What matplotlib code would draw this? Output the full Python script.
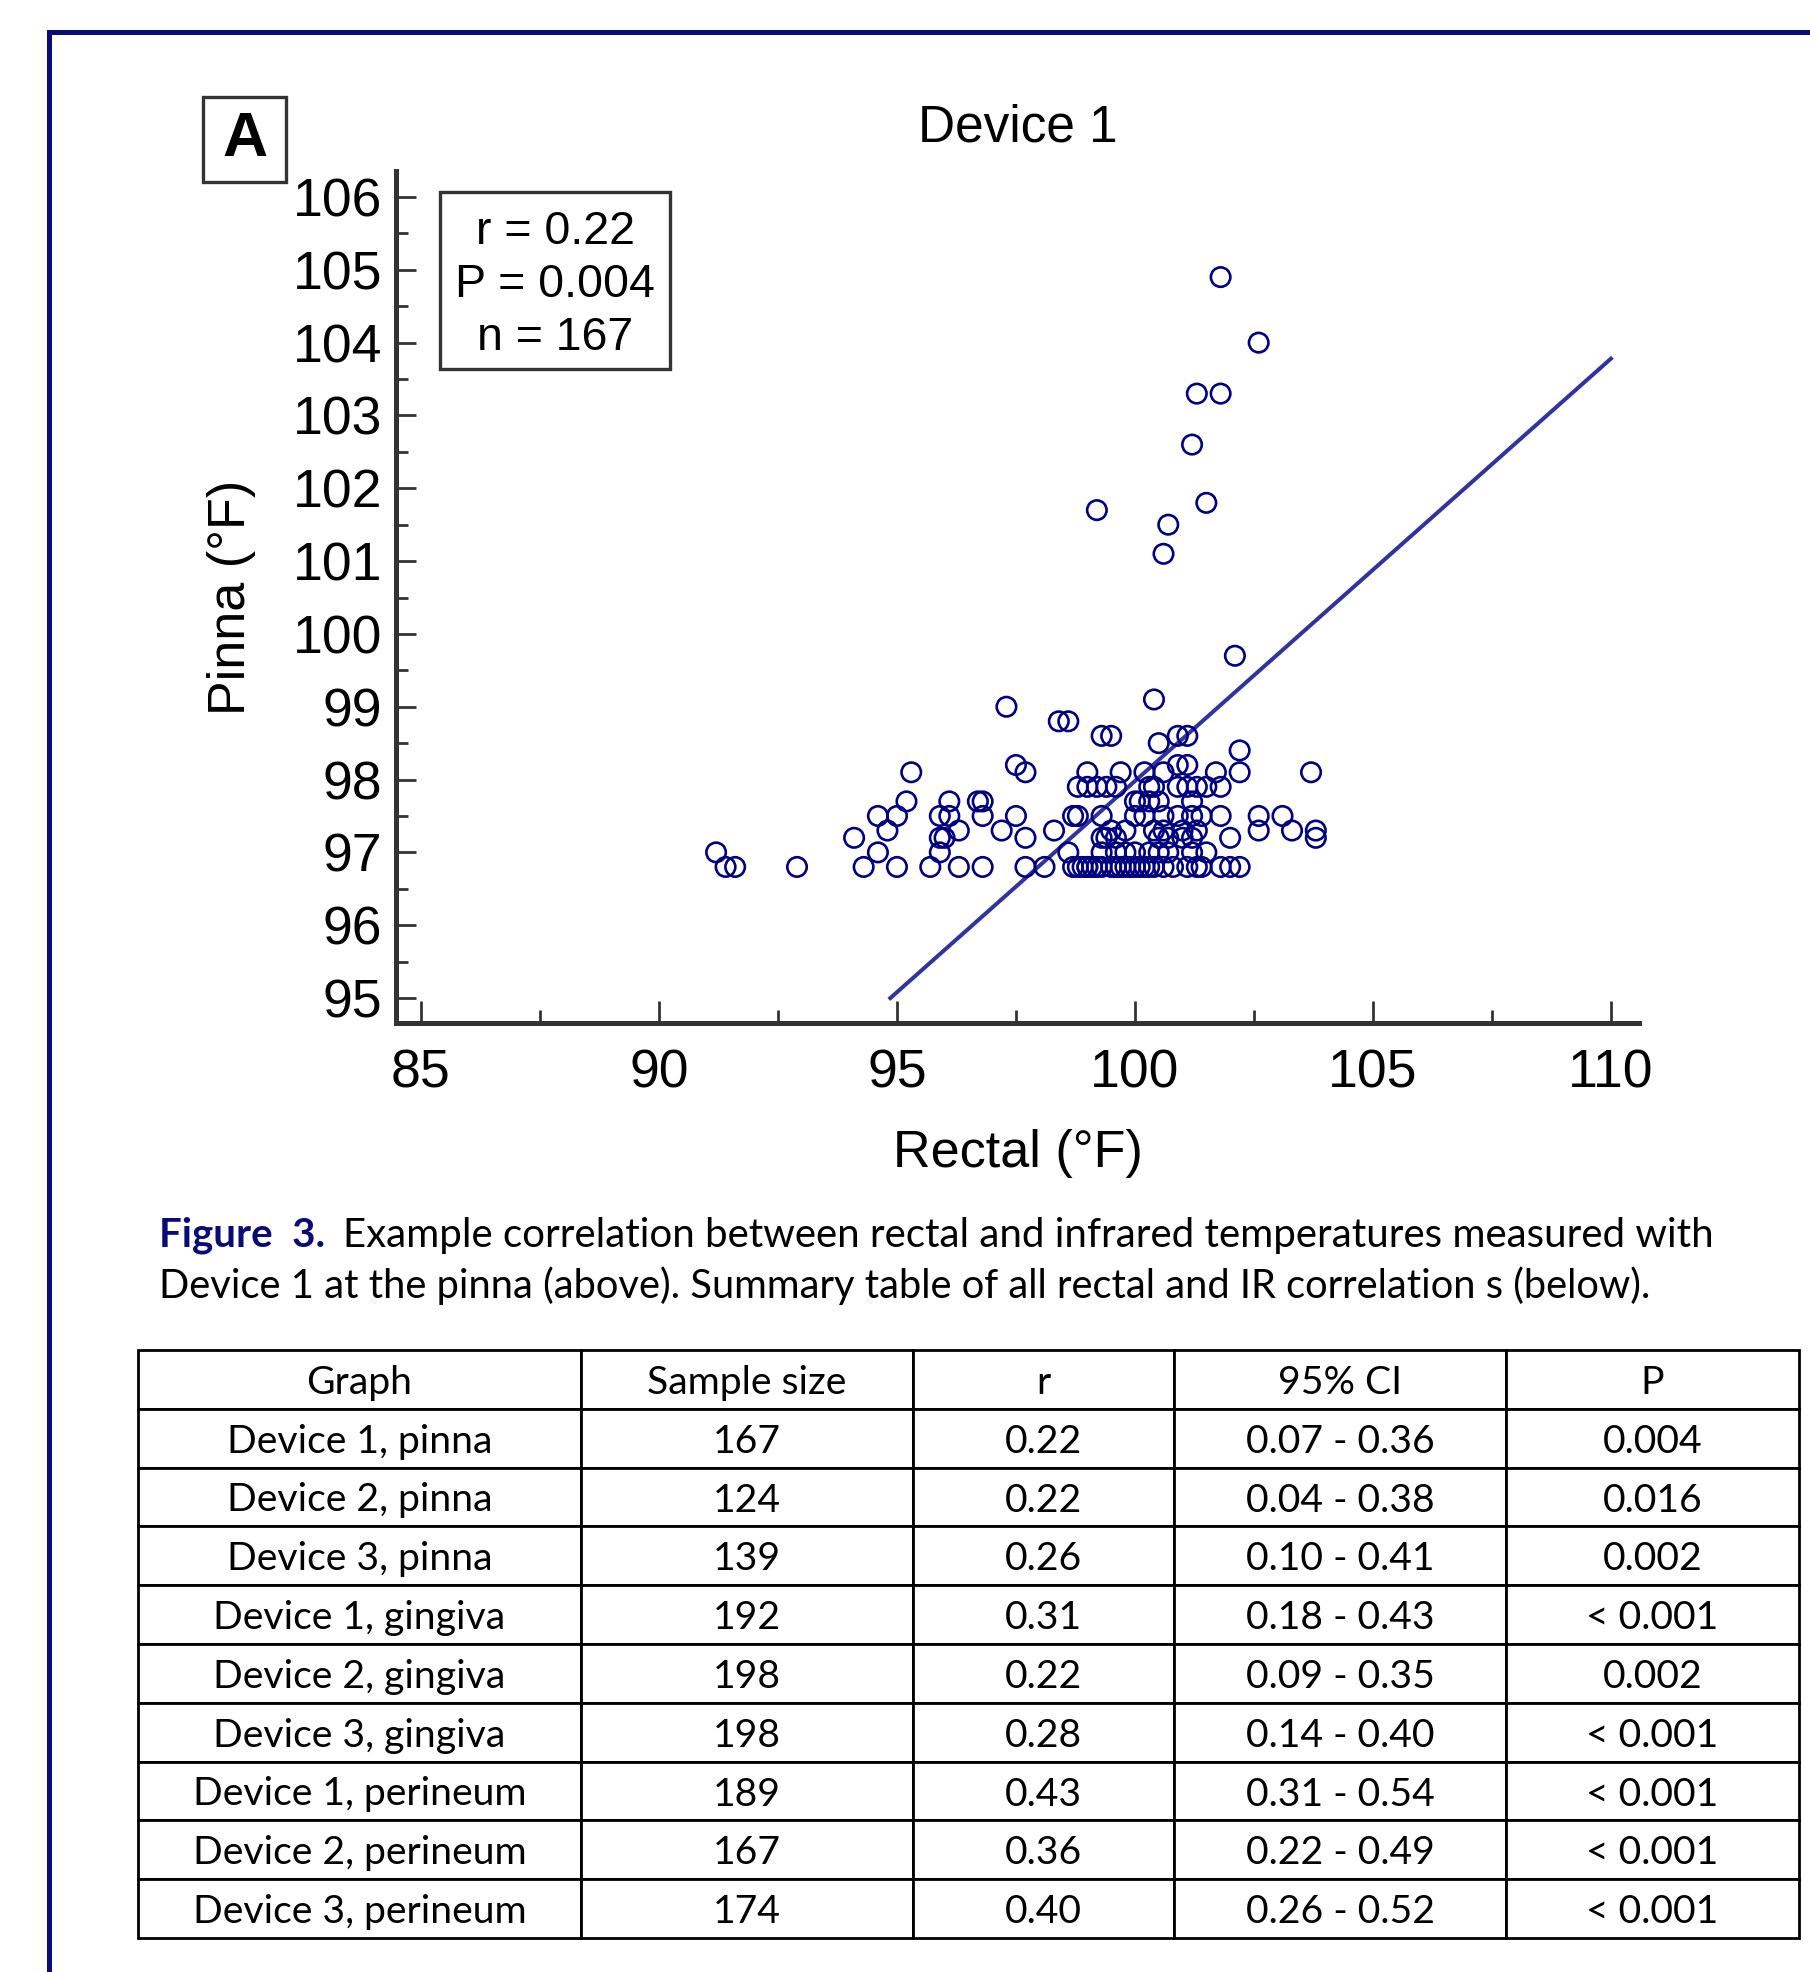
import numpy as np
import matplotlib
matplotlib.use("Agg")
import matplotlib.pyplot as plt
from matplotlib.patches import Rectangle
from matplotlib.lines import Line2D
from matplotlib.ticker import MultipleLocator

# scatter data: pinna reading (°F) and the rectal readings (°F) seen at that level
pinna_levels = [96.8, 97.0, 97.2, 97.3, 97.5, 97.7, 97.9, 98.1, 98.2, 98.4, 98.5,
                98.6, 98.8, 99.0, 99.1, 99.7, 101.1, 101.5, 101.7, 101.8, 102.6,
                103.3, 104.0, 104.9]
rectal_by_level = [
    [91.4, 91.6, 92.9, 94.3, 95.0, 95.7, 96.3, 96.8, 97.7, 98.1, 98.7, 98.8, 98.9,
     99.0, 99.0, 99.1, 99.2, 99.3, 99.5, 99.6, 99.6, 99.7, 99.8, 99.9, 100.0, 100.1,
     100.2, 100.3, 100.4, 100.6, 100.8, 101.1, 101.3, 101.4, 101.8, 102.0, 102.2],
    [91.2, 94.6, 95.9, 98.6, 99.3, 99.6, 99.8, 100.0, 100.3, 100.5, 100.7, 101.2, 101.5],
    [94.1, 95.9, 96.0, 97.7, 99.3, 99.4, 99.6, 100.5, 100.7, 101.0, 101.2, 102.0, 103.8],
    [94.8, 96.3, 97.2, 98.3, 99.5, 99.8, 100.4, 100.6, 101.0, 101.3, 102.6, 103.3, 103.8],
    [94.6, 95.0, 95.9, 96.1, 96.8, 97.5, 98.7, 98.8, 99.3, 100.0, 100.2, 100.6, 100.9,
     101.2, 101.4, 101.8, 102.6, 103.1],
    [95.2, 96.1, 96.7, 96.8, 100.0, 100.1, 100.3, 100.5, 101.2],
    [98.8, 99.0, 99.2, 99.4, 99.6, 100.3, 100.4, 100.9, 101.1, 101.3, 101.5, 101.8],
    [95.3, 97.7, 99.0, 99.7, 100.2, 100.6, 101.7, 102.2, 103.7],
    [97.5, 100.9, 101.1],
    [102.2],
    [100.5],
    [99.3, 99.5, 100.9, 101.1],
    [98.4, 98.6],
    [97.3],
    [100.4],
    [102.1],
    [100.6],
    [100.7],
    [99.2],
    [101.5],
    [101.2],
    [101.3, 101.8],
    [102.6],
    [101.8],
]

# regression line as drawn in the figure
fit_slope = 0.58
fit_intercept = 39.98
fit_x_range = [94.86, 110.0]

stats_text = "r = 0.22\nP = 0.004\nn = 167"

# summary table
table_headers = ["Graph", "Sample size", "r", "95% CI", "P"]
graphs = ["Device 1, pinna", "Device 2, pinna", "Device 3, pinna",
          "Device 1, gingiva", "Device 2, gingiva", "Device 3, gingiva",
          "Device 1, perineum", "Device 2, perineum", "Device 3, perineum"]
sample_sizes = [167, 124, 139, 192, 198, 198, 189, 167, 174]
r_values = ["0.22", "0.22", "0.26", "0.31", "0.22", "0.28", "0.43", "0.36", "0.40"]
ci_95 = ["0.07 - 0.36", "0.04 - 0.38", "0.10 - 0.41", "0.18 - 0.43", "0.09 - 0.35",
         "0.14 - 0.40", "0.31 - 0.54", "0.22 - 0.49", "0.26 - 0.52"]
p_values = ["0.004", "0.016", "0.002", "< 0.001", "0.002", "< 0.001", "< 0.001",
            "< 0.001", "< 0.001"]

caption_bold = "Figure  3."
caption_line1 = "Example correlation between rectal and infrared temperatures measured with"
caption_line2 = "Device 1 at the pinna (above). Summary table of all rectal and IR correlation s (below)."

W, H = 1810, 1972
NAVY = "#0b0b78"
AXC = "#333333"
SANS = "Liberation Sans"
CAP = "Lato"


def fx(x):
    return x / W


def fy(y):
    return 1 - y / H


rectal = [v for row in rectal_by_level for v in row]
pinna = [lvl for lvl, row in zip(pinna_levels, rectal_by_level) for _ in row]

fig = plt.figure(figsize=(W / 100, H / 100), dpi=100)

# navy page frame (only top and left edges visible)
fig.add_artist(Line2D([fx(49), fx(49)], [fy(32), 0], transform=fig.transFigure,
                      color=NAVY, lw=3.6, solid_capstyle="projecting"))
fig.add_artist(Line2D([fx(49), 1], [fy(32), fy(32)], transform=fig.transFigure,
                      color=NAVY, lw=3.6, solid_capstyle="projecting"))

ax = fig.add_axes([fx(396), fy(1023), fx(1639) - fx(396), fy(171) - fy(1023)])
ax.scatter(rectal, pinna, s=14 ** 2, facecolors="none", edgecolors="#000080",
           linewidths=1.9, zorder=3)
fx_line = np.array(fit_x_range)
ax.plot(fx_line, fit_intercept + fit_slope * fx_line, color="#3333a0", lw=2.9, zorder=2)

ax.set_xlim(84.475, 110.59)
ax.set_ylim(94.657, 106.357)
for s in ["top", "right"]:
    ax.spines[s].set_visible(False)
for s in ["left", "bottom"]:
    ax.spines[s].set_linewidth(3.6)
    ax.spines[s].set_color(AXC)

ax.set_xticks(range(85, 111, 5))
ax.xaxis.set_minor_locator(MultipleLocator(2.5))
ax.set_yticks(range(95, 107))
ax.yaxis.set_minor_locator(MultipleLocator(0.5))
ax.tick_params(axis="x", which="major", direction="in", length=16, width=2,
               color=AXC, labelsize=38.5, pad=18)
ax.tick_params(axis="x", which="minor", direction="in", length=9.5, width=2, color=AXC)
ax.tick_params(axis="y", which="major", direction="in", length=14.5, width=2,
               color=AXC, labelsize=38.5, pad=10)
ax.tick_params(axis="y", which="minor", direction="in", length=8.5, width=2, color=AXC)
for lab in ax.get_xticklabels() + ax.get_yticklabels():
    lab.set_fontfamily(SANS)

ax.set_title("Device 1", fontsize=37, family=SANS, pad=21)
ax.set_xlabel("Rectal (°F)", fontsize=37.5, family=SANS, labelpad=22)
ax.set_ylabel("Pinna (°F)", fontsize=37.5, family=SANS, labelpad=26)

# panel letter
fig.add_artist(Rectangle((fx(203), fy(182)), fx(286) - fx(203), fy(97) - fy(182),
                         transform=fig.transFigure, fill=False, ec=AXC, lw=2.4))
fig.text(fx(244.5), fy(140), "A", fontsize=45, fontweight="bold", family=SANS,
         ha="center", va="center")

# stats box
fig.add_artist(Rectangle((fx(440), fy(369)), fx(670) - fx(440), fy(192) - fy(369),
                         transform=fig.transFigure, fill=False, ec=AXC, lw=2.4))
fig.text(fx(555), fy(285), stats_text, fontsize=33.5, family=SANS, ha="center",
         va="center", multialignment="center", linespacing=1.27)

# caption
renderer = fig.canvas.get_renderer()
tb = fig.text(fx(159), fy(1247), caption_bold, fontsize=29, fontweight="bold",
              family=CAP, color=NAVY, va="baseline")
bb = tb.get_window_extent(renderer)
fig.text((bb.x1 + 18) / W, fy(1247), caption_line1, fontsize=29, family=CAP,
         va="baseline")
fig.text(fx(159), fy(1298), caption_line2, fontsize=28.7, family=CAP, va="baseline")

# summary table
tax = fig.add_axes([fx(138), fy(1938), fx(1799) - fx(138), fy(1350) - fy(1938)])
tax.axis("off")
cells = [[g, str(n), r, ci, p] for g, n, r, ci, p in
         zip(graphs, sample_sizes, r_values, ci_95, p_values)]
col_w = np.array([443, 332, 261, 332, 293], dtype=float)
tbl = tax.table(cellText=cells, colLabels=table_headers, colWidths=col_w / col_w.sum(),
                cellLoc="center", bbox=[0, 0, 1, 1])
tbl.auto_set_font_size(False)
for cell in tbl.get_celld().values():
    cell.set_linewidth(2.0)
    cell.set_edgecolor("black")
    cell.get_text().set_fontsize(28.2)
    cell.get_text().set_fontfamily(CAP)
    cell.get_text().set_va("center_baseline")

fig.savefig("out.png", dpi=100)
